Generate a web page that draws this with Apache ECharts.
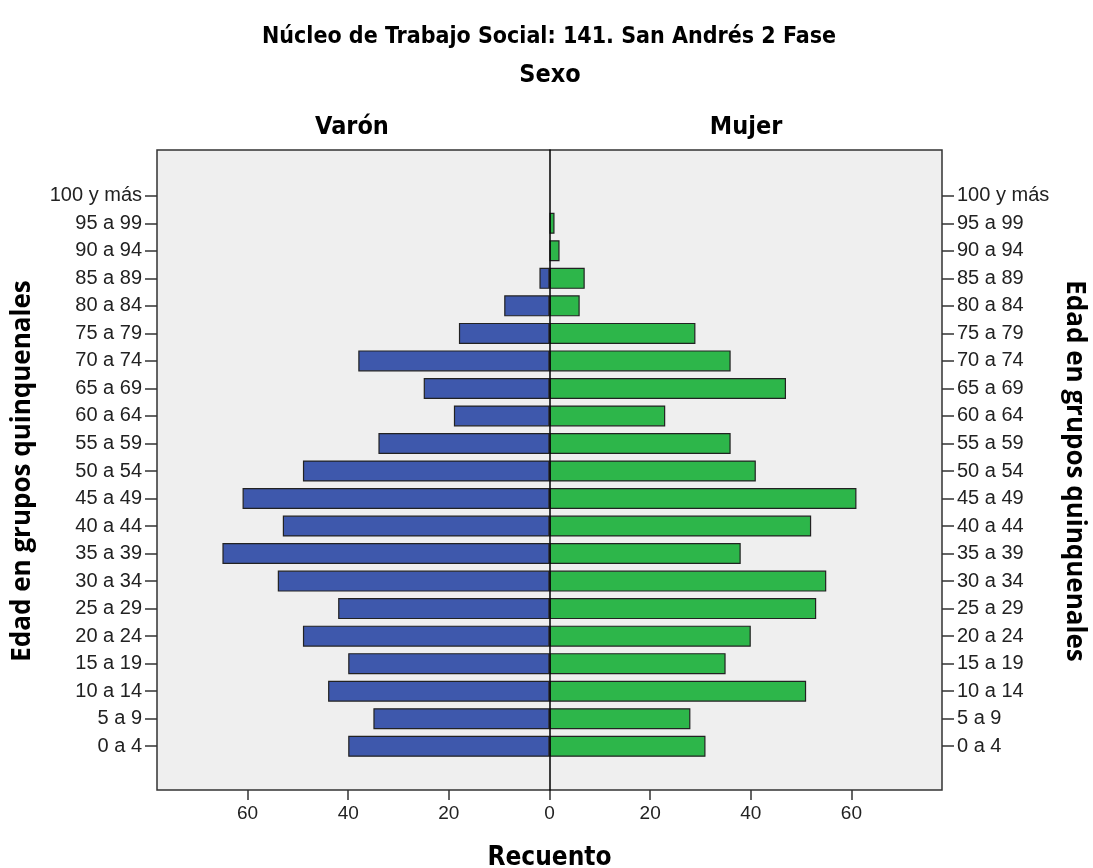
<!DOCTYPE html>
<html>
<head>
<meta charset="utf-8">
<script src="https://cdn.jsdelivr.net/npm/echarts@6/dist/echarts.min.js"></script>
<style>
    html, body { margin: 0; padding: 0; background: #fff; }
    #chart { width: 1093px; height: 868px; }
</style>
</head>
<body>
<div id="chart"></div>
<script>
// grupos de edad, de abajo hacia arriba
var ages = ['0 a 4', '5 a 9', '10 a 14', '15 a 19', '20 a 24', '25 a 29', '30 a 34', '35 a 39',
    '40 a 44', '45 a 49', '50 a 54', '55 a 59', '60 a 64', '65 a 69', '70 a 74', '75 a 79',
    '80 a 84', '85 a 89', '90 a 94', '95 a 99', '100 y más'];
var varon = [40, 35, 44, 40, 49, 42, 54, 65, 53, 61, 49, 34, 19, 25, 38, 18, 9, 2, 0, 0, 0];
var mujer = [31, 28, 51, 35, 40, 53, 55, 38, 52, 61, 41, 36, 23, 47, 36, 29, 6, 7, 2, 1, 0];
var countTicks = [-60, -40, -20, 0, 20, 40, 60];

var narrow = "'Liberation Sans Narrow', 'DejaVu Sans Condensed', sans-serif";
var chart = echarts.init(document.getElementById('chart'));

// los valores de varón van a la izquierda (negativos)
function barData(list, sign) {
    return list.map(function (v) {
        return v > 0 ? sign * v : '-';
    });
}

var yAxisCommon = {
    type: 'category',
    gridIndex: 1,
    data: ages,
    axisLine: { show: false, onZero: false },
    axisTick: { show: true, alignWithLabel: true, length: 12, lineStyle: { color: '#333', width: 1.5 } },
    axisLabel: { color: '#222', fontSize: 20, fontFamily: 'Liberation Sans', margin: 15 },
    nameLocation: 'middle',
    nameTextStyle: { color: '#000', fontSize: 26, fontWeight: 'bold', fontFamily: 'Open Sans' }
};

chart.setOption({
    animation: false,
    graphic: [
        { type: 'text', style: { text: 'Núcleo de Trabajo Social: 141. San Andrés 2 Fase', x: 549, y: 37, textAlign: 'center', textVerticalAlign: 'middle', font: 'bold 23px ' + narrow, fill: '#000' } },
        { type: 'text', style: { text: 'Sexo', x: 550, y: 75, textAlign: 'center', textVerticalAlign: 'middle', font: 'bold 25px ' + narrow, fill: '#000' } },
        { type: 'text', style: { text: 'Varón', x: 352, y: 127, textAlign: 'center', textVerticalAlign: 'middle', font: 'bold 25px ' + narrow, fill: '#000' } },
        { type: 'text', style: { text: 'Mujer', x: 746, y: 127, textAlign: 'center', textVerticalAlign: 'middle', font: 'bold 25px ' + narrow, fill: '#000' } }
    ],
    grid: [
        { left: 157, right: 151, top: 150, bottom: 78, outerBoundsMode: 'none', show: true, backgroundColor: '#efefef', borderColor: '#333', borderWidth: 1.5 },
        { left: 157, right: 151, top: 182, bottom: 108, outerBoundsMode: 'none' }
    ],
    xAxis: [
        {
            type: 'value',
            gridIndex: 0,
            min: -78,
            max: 78,
            axisLine: { show: false },
            splitLine: { show: false },
            axisTick: { show: true, customValues: countTicks, length: 10, lineStyle: { color: '#333', width: 1.5 } },
            axisLabel: {
                customValues: countTicks,
                color: '#222',
                fontSize: 19,
                fontFamily: 'Liberation Sans',
                margin: 14,
                formatter: function (v) { return Math.abs(v); }
            },
            name: 'Recuento',
            nameLocation: 'middle',
            nameGap: 55,
            nameTextStyle: { color: '#000', fontSize: 26, fontWeight: 'bold', fontFamily: narrow }
        },
        { type: 'value', gridIndex: 1, min: -78, max: 78, show: false }
    ],
    yAxis: [
        Object.assign({}, yAxisCommon, { position: 'left', name: 'Edad en grupos quinquenales', nameGap: 121, nameRotate: 90 }),
        Object.assign({}, yAxisCommon, { position: 'right', name: 'Edad en grupos quinquenales', nameGap: 119, nameRotate: -90 }),
        // eje vertical en el cero
        {
            type: 'value',
            gridIndex: 0,
            min: 0,
            max: 1,
            z: 5,
            axisLine: { show: true, onZero: true, lineStyle: { color: '#000', width: 1.5 } },
            axisTick: { show: false },
            axisLabel: { show: false },
            splitLine: { show: false }
        }
    ],
    series: [
        {
            name: 'Varón',
            type: 'bar',
            xAxisIndex: 1,
            yAxisIndex: 0,
            barWidth: 21,
            barGap: '-100%',
            data: barData(varon, -1),
            itemStyle: { color: '#3e58ac', borderColor: '#222', borderWidth: 1.2 }
        },
        {
            name: 'Mujer',
            type: 'bar',
            xAxisIndex: 1,
            yAxisIndex: 0,
            barWidth: 21,
            barGap: '-100%',
            data: barData(mujer, 1),
            itemStyle: { color: '#2db64a', borderColor: '#222', borderWidth: 1.2 }
        }
    ]
});
</script>
</body>
</html>
